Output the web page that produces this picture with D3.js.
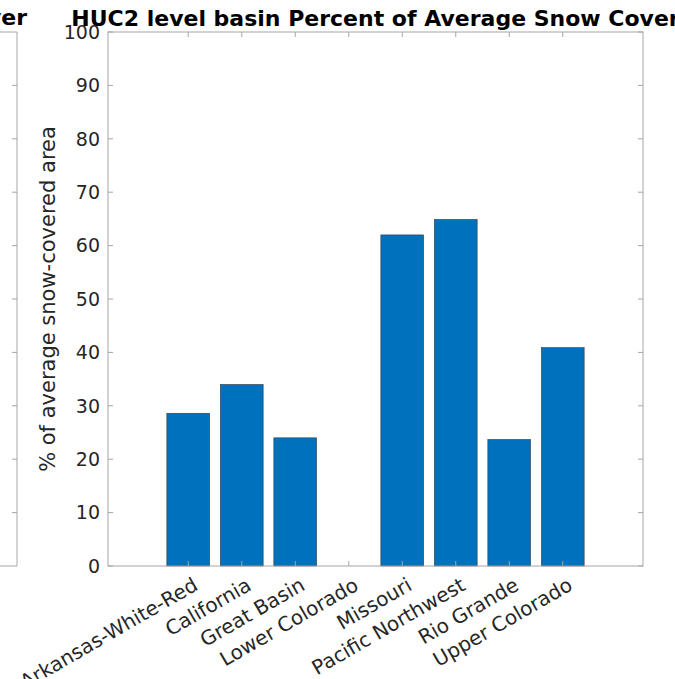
<!DOCTYPE html>
<html>
<head>
<meta charset="utf-8">
<script src="https://cdnjs.cloudflare.com/ajax/libs/d3/7.8.5/d3.min.js"></script>
<style>
  body { margin: 0; background: #fff; }
  svg { display: block; font-family: "DejaVu Sans", sans-serif; }
</style>
</head>
<body>
<svg id="chart" width="675" height="679"></svg>
<script>
const width = 675;
const height = 679;

// basins and percent of average snow-covered area
const basins = [
    "Arkansas-White-Red",
    "California",
    "Great Basin",
    "Lower Colorado",
    "Missouri",
    "Pacific Northwest",
    "Rio Grande",
    "Upper Colorado"
];
const percents = [28.6, 34.0, 24.0, 0, 62.0, 64.9, 23.7, 40.9];
const yTicks = [0, 10, 20, 30, 40, 50, 60, 70, 80, 90, 100];

const titleText = "HUC2 level basin Percent of Average Snow Cover";
const yLabelText = "% of average snow-covered area";

const axLeft = 108, axRight = 643, axTop = 32, axBottom = 566;
const axisColor = "#a6a6a6";
const textColor = "#262626";
const barColor = "#0072bd";

const svg = d3.select("#chart");

// categories sit at 1..n, axis runs from -0.5 to n + 1.5
const x = d3.scaleLinear()
    .domain([-0.5, basins.length + 1.5])
    .range([axLeft, axRight]);
const y = d3.scaleLinear()
    .domain([0, 100])
    .range([axBottom, axTop]);
const barWidth = (x(1) - x(0)) * 0.8;

const rows = basins.map((b, i) => ({ name: b, pos: i + 1, value: percents[i] }));

// partial neighbouring axes on the left edge
const leftAxes = svg.append("g");
leftAxes.append("path")
    .attr("d", `M0,${axTop}H17V${axBottom}H0`)
    .attr("fill", "none")
    .attr("stroke", axisColor);
leftAxes.selectAll("line")
    .data(yTicks.slice(1, -1))
    .enter()
    .append("line")
    .attr("x1", 12).attr("x2", 17)
    .attr("y1", d => y(d)).attr("y2", d => y(d))
    .attr("stroke", axisColor);
leftAxes.append("text")
    .attr("x", 27)
    .attr("y", 25)
    .attr("text-anchor", "end")
    .attr("font-size", "22px")
    .attr("font-weight", "bold")
    .attr("fill", "#000")
    .text("Snow Cover");

// bars (zero values draw nothing)
svg.append("g")
    .selectAll("rect")
    .data(rows.filter(d => d.value > 0))
    .enter()
    .append("rect")
    .attr("x", d => x(d.pos) - barWidth / 2)
    .attr("y", d => y(d.value))
    .attr("width", barWidth)
    .attr("height", d => y(0) - y(d.value))
    .attr("fill", barColor)
    .attr("stroke", "#3a3a3a")
    .attr("stroke-width", 0.6);

// axes box
svg.append("rect")
    .attr("x", axLeft)
    .attr("y", axTop)
    .attr("width", axRight - axLeft)
    .attr("height", axBottom - axTop)
    .attr("fill", "none")
    .attr("stroke", axisColor);

// ticks inside box
const tickLen = 5;
const ticks = svg.append("g").attr("stroke", axisColor);
rows.forEach(function (d) {
    ticks.append("line")
        .attr("x1", x(d.pos)).attr("x2", x(d.pos))
        .attr("y1", axBottom).attr("y2", axBottom - tickLen);
    ticks.append("line")
        .attr("x1", x(d.pos)).attr("x2", x(d.pos))
        .attr("y1", axTop).attr("y2", axTop + tickLen);
});
yTicks.forEach(function (t) {
    ticks.append("line")
        .attr("x1", axLeft).attr("x2", axLeft + tickLen)
        .attr("y1", y(t)).attr("y2", y(t));
    ticks.append("line")
        .attr("x1", axRight).attr("x2", axRight - tickLen)
        .attr("y1", y(t)).attr("y2", y(t));
});

// y tick labels
svg.append("g")
    .selectAll("text")
    .data(yTicks)
    .enter()
    .append("text")
    .attr("x", axLeft - 8)
    .attr("y", d => y(d))
    .attr("dy", "0.36em")
    .attr("text-anchor", "end")
    .attr("font-size", "19px")
    .attr("fill", textColor)
    .text(d => d);

// x tick labels, rotated
svg.append("g")
    .selectAll("text")
    .data(rows)
    .enter()
    .append("text")
    .attr("transform", d => `translate(${x(d.pos) + 11},${axBottom + 23}) rotate(-30)`)
    .attr("text-anchor", "end")
    .attr("font-size", "20px")
    .attr("fill", textColor)
    .text(d => d.name);

// y axis label
svg.append("text")
    .attr("transform", `translate(55,${(axTop + axBottom) / 2}) rotate(-90)`)
    .attr("text-anchor", "middle")
    .attr("font-size", "21px")
    .attr("fill", textColor)
    .text(yLabelText);

// title
svg.append("text")
    .attr("x", (axLeft + axRight) / 2)
    .attr("y", 26)
    .attr("text-anchor", "middle")
    .attr("font-size", "22px")
    .attr("font-weight", "bold")
    .attr("fill", "#000")
    .text(titleText);
</script>
</body>
</html>
